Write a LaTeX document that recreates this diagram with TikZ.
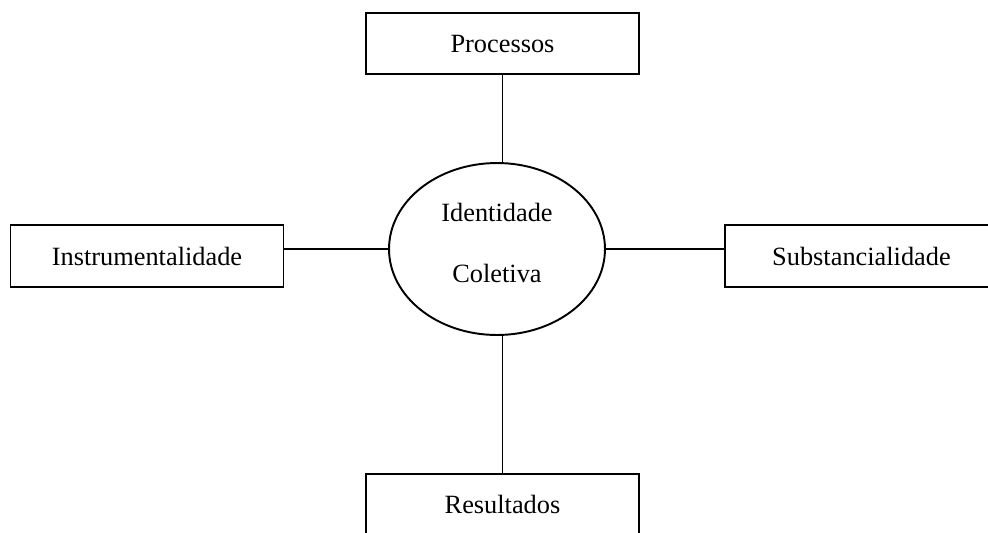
\documentclass[tikz,border=0pt]{standalone}
\usepackage{fontspec}
\setmainfont{Liberation Serif}
\usetikzlibrary{shapes,positioning,calc}

\begin{document}
\begin{tikzpicture}[x=0.02cm, y=-0.02cm]
  % Estilos
  \tikzstyle{caixa}=[rectangle, draw=black, line width=1.1pt, minimum width=5.46cm, minimum height=1.23cm, inner sep=0pt, font=\fontsize{15}{18}\selectfont]
  \tikzstyle{centro}=[ellipse, draw=black, line width=1.1pt, minimum width=4.32cm, minimum height=3.44cm, inner sep=0pt, align=center, text depth=7pt, font=\fontsize{15}{34.5}\selectfont]
  \tikzstyle{liga}=[line width=1.1pt]

  % Margens da figura
  \clip (0,0) rectangle (988,532);

  % Elipse central
  \node[centro] (idc) at (497,249) {Identidade\\Coletiva};

  % Caixas em volta
  \node[caixa] (proc) at (502.5,43.5) {Processos};
  \node[caixa] (inst) at (147,256) {Instrumentalidade};
  \node[caixa] (subs) at (861.5,256) {Substancialidade};
  \node[caixa] (resu) at (502.5,504.5) {Resultados};

  % Ligacoes
  \draw[liga] (proc.south) -- (proc.south |- idc.north);
  \draw[liga] (resu.north) -- (resu.north |- idc.south);
  \draw[liga] (idc.west) -- (idc.west -| inst.east);
  \draw[liga] (idc.east) -- (idc.east -| subs.west);
\end{tikzpicture}
\end{document}
